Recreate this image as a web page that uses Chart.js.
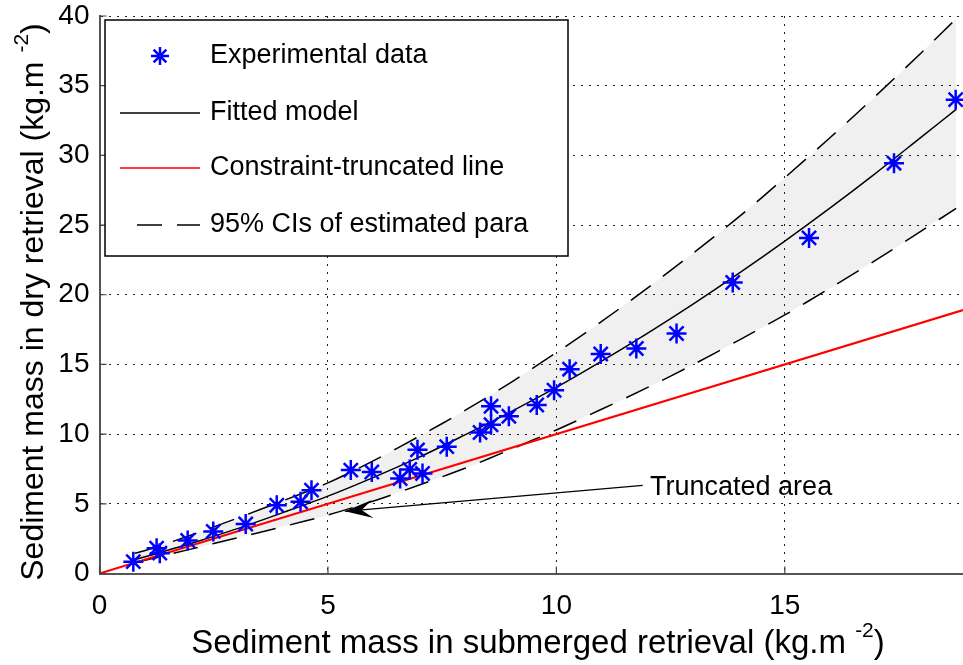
<!DOCTYPE html>
<html>
<head>
<meta charset="utf-8">
<script src="https://cdn.jsdelivr.net/npm/chart.js@4.4.0/dist/chart.umd.min.js"></script>
<style>
  body { margin: 0; background: #fff; }
  #wrap { width: 963px; height: 665px; position: relative; }
</style>
</head>
<body>
<div id="wrap"><canvas id="myChart"></canvas></div>
<script>
// experimental points (submerged, dry)
const expX = [0.74, 1.25, 1.32, 1.93, 2.49, 3.2, 3.88, 4.4, 4.64, 5.5, 5.96, 6.58, 6.79, 7.07, 6.96,
              7.6, 8.33, 8.57, 8.57, 8.96, 9.57, 9.95, 10.29, 10.97, 11.75, 12.63, 13.86, 15.53, 17.39, 18.74]
const expY = [0.85, 1.82, 1.46, 2.37, 3.02, 3.55, 4.9, 5.14, 5.98, 7.42, 7.28, 6.82, 7.47, 7.18, 8.87,
              9.1, 10.12, 10.67, 12.0, 11.28, 12.09, 13.15, 14.66, 15.75, 16.14, 17.22, 20.88, 24.08, 29.44, 34.0]

// curves
const curveX  = [0.77, 1, 2, 3, 4, 5, 6, 7, 8, 9, 10, 11, 12, 13, 14, 15, 16, 17, 18, 18.75]
const fittedY = [1.0, 1.2, 2.15, 3.2, 4.35, 5.55, 6.9, 8.35, 9.95, 11.6, 13.35, 15.25, 17.25, 19.35, 21.55, 23.85, 26.25, 28.75, 31.35, 33.3]
const upperY  = [1.45, 1.65, 2.75, 3.95, 5.2, 6.5, 8.1, 9.85, 11.7, 13.7, 15.85, 18.1, 20.5, 23.0, 25.6, 28.4, 31.3, 34.3, 37.4, 39.8]
const lowerY  = [0.75, 0.95, 1.75, 2.55, 3.35, 4.2, 5.2, 6.35, 7.55, 8.9, 10.3, 11.8, 13.35, 15.0, 16.75, 18.55, 20.5, 22.5, 24.6, 26.2]

const truncX = [0, 18.9]
const truncY = [0, 18.9]

const xTicks = [0, 5, 10, 15]
const yTicks = [0, 5, 10, 15, 20, 25, 30, 35, 40]

const FONT = '"Liberation Sans", Arial, sans-serif'

function pts(xs, ys) {
    return xs.map((x, i) => ({x: x, y: ys[i]}))
}

// axis titles, inner ticks, legend box and the arrow note
const extras = {
    id: 'extras',
    afterDraw(chart) {
        const ctx = chart.ctx
        const area = chart.chartArea
        const xs = chart.scales.x, ys = chart.scales.y
        ctx.save()

        // inward tick marks
        ctx.strokeStyle = '#444'
        ctx.lineWidth = 1.2
        ctx.beginPath()
        xTicks.forEach(v => {
            const px = xs.getPixelForValue(v)
            ctx.moveTo(px, area.bottom); ctx.lineTo(px, area.bottom - 7)
        })
        yTicks.forEach(v => {
            const py = ys.getPixelForValue(v)
            ctx.moveTo(area.left, py); ctx.lineTo(area.left + 7, py)
        })
        ctx.stroke()

        // axis titles with superscript
        function supTitle(main, sup, cx, cy, rot, size) {
            const big = size + 'px ' + FONT, small = Math.round(size * 0.65) + 'px ' + FONT
            ctx.save()
            ctx.translate(cx, cy)
            ctx.rotate(rot)
            ctx.fillStyle = '#000'
            ctx.textBaseline = 'middle'
            ctx.font = big
            const w1 = ctx.measureText(main).width
            const w3 = ctx.measureText(')').width
            ctx.font = small
            const w2 = ctx.measureText(sup).width
            let x0 = -(w1 + w2 + w3) / 2
            ctx.textAlign = 'left'
            ctx.font = big
            ctx.fillText(main, x0, 0)
            ctx.font = small
            ctx.fillText(sup, x0 + w1, -size * 0.38)
            ctx.font = big
            ctx.fillText(')', x0 + w1 + w2, 0)
            ctx.restore()
        }
        supTitle('Sediment mass in submerged retrieval (kg.m ', '-2', 538, 644, 0, 33)
        supTitle('Sediment mass in dry retrieval (kg.m ', '-2', 34, 302, -Math.PI / 2, 32)

        // legend
        ctx.fillStyle = '#fff'
        ctx.fillRect(105, 20, 463, 236)
        ctx.strokeStyle = '#000'
        ctx.lineWidth = 1.5
        ctx.strokeRect(105, 20, 463, 236)
        ctx.font = '27px ' + FONT
        ctx.fillStyle = '#000'
        ctx.textAlign = 'left'
        ctx.textBaseline = 'middle'
        const rows = [56, 113, 168, 225]
        const dsets = chart.data.datasets
        ctx.strokeStyle = 'rgb(0,0,255)'
        ctx.lineWidth = 2.5
        Chart.helpers.drawPoint(ctx, {pointStyle: 'star', radius: 9, borderWidth: 2.5}, 160, rows[0])
        ctx.fillText(dsets[0].label, 210, rows[0])
        const sample = (y, color, dash) => {
            ctx.save()
            ctx.strokeStyle = color
            ctx.lineWidth = 1.5
            ctx.setLineDash(dash)
            ctx.beginPath(); ctx.moveTo(dash.length ? 137 : 120, y); ctx.lineTo(200, y); ctx.stroke()
            ctx.restore()
        }
        sample(rows[1], '#000', [])
        ctx.fillText(dsets[1].label, 210, rows[1])
        sample(rows[2], 'rgb(255,0,0)', [])
        ctx.fillText(dsets[2].label, 210, rows[2])
        sample(rows[3], '#000', [25, 15])
        ctx.fillText(dsets[3].label, 210, rows[3])

        // "Truncated area" note with arrow
        const tx = xs.getPixelForValue(11.89), ty = ys.getPixelForValue(6.32)
        const hx = xs.getPixelForValue(5.37), hy = ys.getPixelForValue(4.46)
        ctx.strokeStyle = '#000'
        ctx.lineWidth = 1.2
        ctx.beginPath(); ctx.moveTo(tx, ty); ctx.lineTo(hx, hy); ctx.stroke()
        const ang = Math.atan2(ty - hy, tx - hx)
        const L = 28, W = 9
        const c = Math.cos(ang), s = Math.sin(ang)
        ctx.fillStyle = '#000'
        ctx.beginPath()
        ctx.moveTo(hx, hy)
        ctx.lineTo(hx + L * c - W * s, hy + L * s + W * c)
        ctx.lineTo(hx + 0.6 * L * c, hy + 0.6 * L * s)
        ctx.lineTo(hx + L * c + W * s, hy + L * s - W * c)
        ctx.closePath()
        ctx.fill()
        ctx.font = '27px ' + FONT
        ctx.textBaseline = 'middle'
        ctx.fillText('Truncated area', xs.getPixelForValue(12.05), ys.getPixelForValue(6.17))

        ctx.restore()
    }
}

const config = {
    type: 'scatter',
    data: {
        datasets: [
            {
                label: 'Experimental data',
                data: pts(expX, expY),
                pointStyle: 'star',
                pointRadius: 10,
                pointBorderWidth: 2.5,
                borderColor: 'rgb(0,0,255)',
                backgroundColor: 'rgb(0,0,255)',
                showLine: false
            },
            {
                label: 'Fitted model',
                data: pts(curveX, fittedY),
                showLine: true,
                borderColor: '#000',
                borderWidth: 1.5,
                pointRadius: 0,
                tension: 0.3
            },
            {
                label: 'Constraint-truncated line',
                data: pts(truncX, truncY),
                showLine: true,
                borderColor: 'rgb(255,0,0)',
                borderWidth: 2,
                pointRadius: 0
            },
            {
                label: '95% CIs of estimated para',
                data: pts(curveX, upperY),
                showLine: true,
                borderColor: '#000',
                borderWidth: 1.5,
                borderDash: [25, 15],
                pointRadius: 0,
                tension: 0.3
            },
            {
                label: 'lower CI',
                data: pts(curveX, lowerY),
                showLine: true,
                borderColor: '#000',
                borderWidth: 1.5,
                borderDash: [25, 15],
                pointRadius: 0,
                tension: 0.3,
                fill: 3,
                backgroundColor: 'rgba(0,0,0,0.06)'
            }
        ]
    },
    options: {
        responsive: true,
        maintainAspectRatio: false,
        animation: false,
        layout: { autoPadding: false, padding: 0 },
        plugins: {
            legend: { display: false },
            tooltip: { enabled: false }
        },
        scales: {
            x: {
                type: 'linear',
                min: 0,
                max: 18.9,
                afterBuildTicks: s => { s.ticks = xTicks.map(v => ({value: v})) },
                afterFit: s => { s.height = 91.5 },
                grid: { color: '#222', lineWidth: 1, drawTicks: false },
                border: { display: true, color: '#555', width: 2, dash: [2, 6] },
                ticks: { color: '#000', padding: 16, font: { family: FONT, size: 28 } }
            },
            y: {
                type: 'linear',
                min: 0,
                max: 40,
                afterBuildTicks: s => { s.ticks = yTicks.map(v => ({value: v})) },
                afterFit: s => { s.width = 99.5; s.paddingTop = 16; s.paddingBottom = 16 },
                grid: { color: '#222', lineWidth: 1, drawTicks: false },
                border: { display: true, color: '#555', width: 2, dash: [2, 6] },
                ticks: { color: '#000', padding: 10, font: { family: FONT, size: 28 } }
            }
        }
    },
    plugins: [extras]
}

const myChart = new Chart(document.getElementById('myChart'), config)
</script>
</body>
</html>
